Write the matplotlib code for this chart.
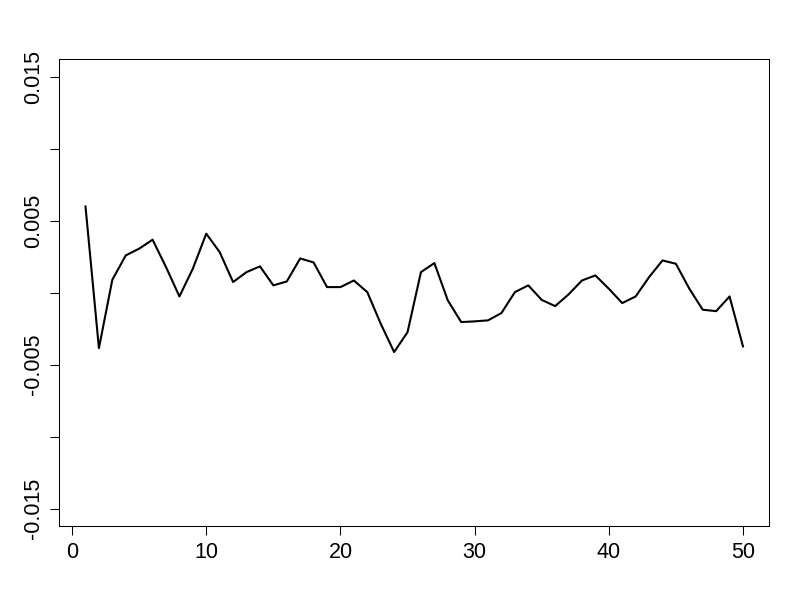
import matplotlib
matplotlib.use("Agg")
import matplotlib.pyplot as plt
import numpy as np

# series, index 1..50
idx = np.arange(1, 51)
vals = [0.00599, -0.00385, 0.00090, 0.00259, 0.00306, 0.00368, 0.00178, -0.00026, 0.00167, 0.00410,
        0.00282, 0.00074, 0.00143, 0.00183, 0.00051, 0.00078, 0.00238, 0.00210, 0.00039, 0.00039,
        0.00085, 0.00004, -0.00215, -0.00412, -0.00274, 0.00143, 0.00206, -0.00053, -0.00204, -0.00199,
        -0.00192, -0.00141, 0.00004, 0.00051, -0.00050, -0.00093, -0.00012, 0.00085, 0.00120, 0.00028,
        -0.00072, -0.00026, 0.00108, 0.00224, 0.00201, 0.00028, -0.00118, -0.00128, -0.00026, -0.00373]

xticks = [0, 10, 20, 30, 40, 50]
yticks = [-0.015, -0.01, -0.005, 0, 0.005, 0.01, 0.015]
ylabels = ["-0.015", "", "-0.005", "", "0.005", "", "0.015"]

plt.rcParams['font.family'] = ['Liberation Sans', 'DejaVu Sans']

fig = plt.figure(figsize=(8, 6), dpi=100)
ax = fig.add_axes([0.074, 0.1233, 0.8876, 0.7777])
ax.plot(idx, vals, color="black", lw=1.5)

ax.set_xlim(-0.96, 51.96)
ax.set_ylim(-0.0162, 0.0162)
ax.set_xticks(xticks)
ax.set_xticklabels([str(t) for t in xticks])
ax.set_yticks(yticks)
ax.set_yticklabels(ylabels)

ax.tick_params(axis="both", labelsize=15.5, length=6.2, width=0.75, pad=5)
for lab in ax.get_yticklabels():
    lab.set_rotation(90)
    lab.set_verticalalignment("center")
    lab.set_horizontalalignment("right")
for s in ax.spines.values():
    s.set_linewidth(0.75)

fig.savefig("out.png", dpi=100, facecolor="white")
